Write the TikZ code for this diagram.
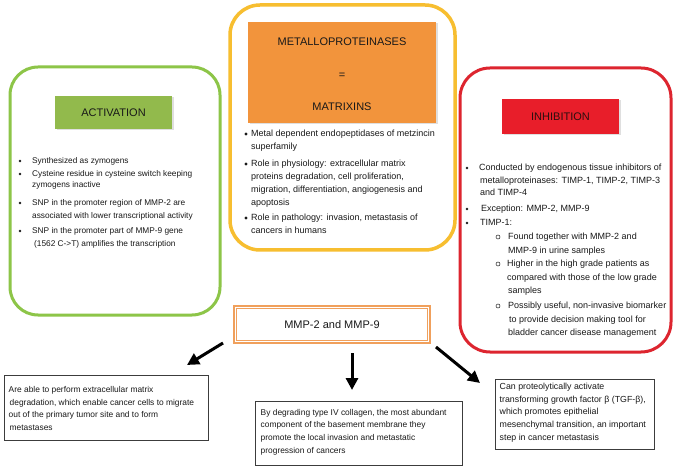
\documentclass[tikz,border=0pt]{standalone}
\usepackage{fontspec}
\setmainfont{Liberation Sans}
\usetikzlibrary{arrows.meta,shadows}
\definecolor{grn}{RGB}{141,197,72}
\definecolor{grnfill}{RGB}{146,186,76}
\definecolor{yel}{RGB}{247,190,48}
\definecolor{org}{RGB}{242,148,60}
\definecolor{redb}{RGB}{221,37,47}
\definecolor{redfill}{RGB}{232,30,42}
\definecolor{mmpor}{RGB}{240,160,92}
\definecolor{txt}{RGB}{25,25,25}
\definecolor{boxln}{RGB}{60,60,60}
\newcommand{\fl}{\rule{0pt}{7pt}}
\tikzset{
  frame/.style={draw, rounded corners=28pt, line width=3pt, inner sep=0pt},
  titlebox/.style={inner sep=0pt, text=txt, font=\fontsize{11}{13}\selectfont,
     drop shadow={opacity=0.25, shadow xshift=1.5pt, shadow yshift=-1.5pt}},
  gtxt/.style={anchor=north west, inner sep=0pt, align=left, text=txt, font=\fontsize{8.3}{13}\selectfont},
  ytxt/.style={anchor=north west, inner sep=0pt, align=left, text=txt, font=\fontsize{9}{13}\selectfont},
  rtxt/.style={anchor=north west, inner sep=0pt, align=left, text=txt, font=\fontsize{9}{12.5}\selectfont},
  bul/.style={circle, fill=txt, inner sep=0pt, minimum size=2.8pt},
  ybul/.style={circle, fill=txt, inner sep=0pt, minimum size=3.2pt},
  obul/.style={circle, draw=txt, line width=0.5pt, inner sep=0pt, minimum size=4pt},
  outbox/.style={draw=boxln, line width=1pt, inner sep=0pt},
  outtxt/.style={anchor=west, inner sep=0pt, align=left, text=txt},
  bigarrow/.style={line width=3pt, -{Triangle[length=12pt,width=12pt]}},
}
\begin{document}
\begin{tikzpicture}[x=1pt,y=-1pt]
\useasboundingbox[fill=white] (0,0) rectangle (677,470);

% ---- frames
\node[frame, draw=grn, minimum width=210pt, minimum height=248pt] (act) at (115,191) {};
\node[frame, draw=yel, line width=3.5pt, rounded corners=30pt, minimum width=225pt, minimum height=245pt] (met) at (342.5,127.5) {};
\node[frame, draw=redb, rounded corners=30pt, minimum width=211pt, minimum height=284pt] (inh) at (565.5,210) {};

% ---- title boxes
\node[titlebox, fill=grnfill, minimum width=117pt, minimum height=33pt] (acttitle) at (113.5,112.5) {ACTIVATION};
\node[titlebox, fill=org, minimum width=188pt, minimum height=101pt] (mettitle) at (342,72.5) {};
\node[inner sep=0pt, align=center, text=txt, font=\fontsize{11}{32.5}\selectfont] (mettext) at (342,74.5) {METALLOPROTEINASES\\=\\MATRIXINS};
\node[titlebox, fill=redfill, text={rgb,255:red,45;green,15;blue,15}, minimum width=117pt, minimum height=35pt] (inhtitle) at (560.5,116.5) {INHIBITION};

% ---- activation items
\node[bul] (gb1) at (20,161) {};
\node[gtxt] (g1) at (32,156.5) {\fl Synthesized as zymogens};
\node[bul] (gb2) at (20,174) {};
\node[gtxt, font=\fontsize{8.3}{11}\selectfont] (g2) at (32,169.5) {\fl Cysteine residue in cysteine switch keeping\\zymogens inactive};
\node[bul] (gb3) at (20,203) {};
\node[gtxt] (g3) at (32,198.5) {\fl SNP in the promoter region of MMP-2 are\\associated with lower transcriptional activity};
\node[bul] (gb4) at (20,231) {};
\node[gtxt] (g4) at (32,226.5) {\fl SNP in the promoter part of MMP-9 gene\\\hspace*{2pt}(1562 C-{}>T) amplifies the transcription};

% ---- metalloproteinases items
\node[ybul] (yb1) at (246,134) {};
\node[ytxt] (y1) at (251,129.5) {\fl Metal dependent endopeptidases of metzincin\\superfamily};
\node[ybul] (yb2) at (246,164) {};
\node[ytxt] (y2) at (251,159.5) {\fl Role in physiology: extracellular matrix\\proteins degradation, cell proliferation,\\migration, differentiation, angiogenesis and\\apoptosis};
\node[ybul] (yb3) at (246,218) {};
\node[ytxt] (y3) at (251,213.5) {\fl Role in pathology: invasion, metastasis of\\cancers in humans};

% ---- inhibition items
\node[bul] (rb1) at (467,168) {};
\node[rtxt] (r1) at (479,163.5) {\fl Conducted by endogenous tissue inhibitors of\\\hspace*{1pt}metalloproteinases: TIMP-1, TIMP-2, TIMP-3\\\hspace*{1pt}and TIMP-4};
\node[bul] (rb2) at (467,209) {};
\node[rtxt] (r2) at (481,204.5) {\fl Exception: MMP-2, MMP-9};
\node[bul] (rb3) at (467,223) {};
\node[rtxt] (r3) at (480,218.5) {\fl TIMP-1:};
\node[obul] (sb1) at (498,237) {};
\node[rtxt, font=\fontsize{9}{14}\selectfont] (s1) at (508,232.5) {\fl Found together with MMP-2 and\\MMP-9 in urine samples};
\node[obul] (sb2) at (498,264) {};
\node[rtxt, font=\fontsize{9}{13.5}\selectfont] (s2) at (507,259.5) {\fl Higher in the high grade patients as\\compared with those of the low grade\\\hspace*{1pt}samples};
\node[obul] (sb3) at (498,306) {};
\node[rtxt, font=\fontsize{9}{13.5}\selectfont] (s3) at (508,301.5) {\fl Possibly useful, non-invasive biomarker\\\hspace*{1pt}to provide decision making tool for\\bladder cancer disease management};

% ---- MMP-2 and MMP-9
\node[draw=mmpor, line width=1.5pt, double=white, double distance=1.4pt, inner sep=0pt,
      minimum width=193.5pt, minimum height=34.5pt, text=txt, font=\fontsize{11}{13}\selectfont] (mmp) at (332,324.5) {MMP-2 and MMP-9};

% ---- outcome boxes
\node[outbox, minimum width=204pt, minimum height=65pt] (o1) at (106,407.5) {};
\node[outtxt, font=\fontsize{8.4}{12.4}\selectfont] (o1t) at ([xshift=5pt,yshift=-1pt]o1.west) {Are able to perform extracellular matrix\\\hspace*{1pt}degradation, which enable cancer cells to migrate\\out of the primary tumor site and to form\\\hspace*{1pt}metastases};
\node[outbox, minimum width=207pt, minimum height=64pt] (o2) at (358.5,433) {};
\node[outtxt, font=\fontsize{8.4}{12.6}\selectfont] (o2t) at ([xshift=6pt,yshift=1pt]o2.west) {By degrading type IV collagen, the most abundant\\component of the basement membrane they\\promote the local invasion and metastatic\\progression of cancers};
\node[outbox, minimum width=159pt, minimum height=70pt] (o3) at (574.5,414) {};
\node[outtxt, font=\fontsize{8.8}{12.75}\selectfont] (o3t) at ([xshift=5pt,yshift=1.5pt]o3.west) {Can proteolytically activate\\transforming growth factor β (TGF-β),\\which promotes epithelial\\mesenchymal transition, an important\\step in cancer metastasis};

% ---- arrows
\coordinate (a1s) at (223,343);
\coordinate (a1e) at (187,365);
\coordinate (a2s) at (352,353);
\coordinate (a2e) at (352,390);
\coordinate (a3s) at (436,347);
\coordinate (a3e) at (480,383);
\draw[bigarrow] (a1s) -- (a1e);
\draw[bigarrow] (a2s) -- (a2e);
\draw[bigarrow] (a3s) -- (a3e);
\end{tikzpicture}
\end{document}
